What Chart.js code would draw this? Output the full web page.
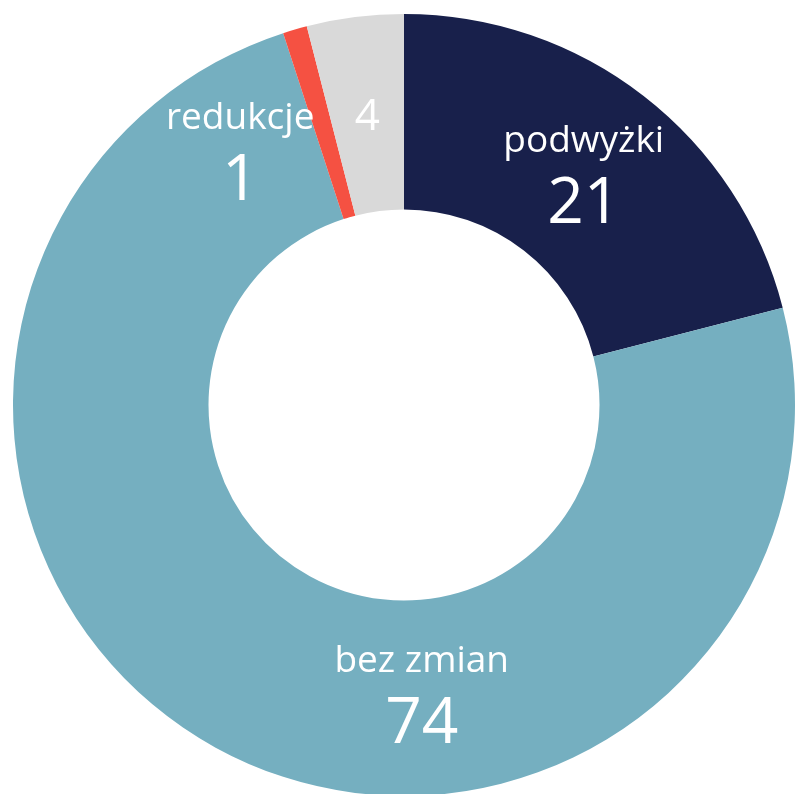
<!DOCTYPE html>
<html>
<head>
<meta charset="utf-8">
<script src="https://cdn.jsdelivr.net/npm/chart.js@4.4.0/dist/chart.umd.min.js"></script>
<style>
  html, body { margin: 0; padding: 0; background: #ffffff; overflow: hidden; width: 795px; height: 794px; }
  #wrap { position: absolute; left: 13px; top: 14px; width: 782px; height: 782px; }
</style>
</head>
<body>
<div id="wrap"><canvas id="c"></canvas></div>
<script>
const categories = ['podwyżki', 'bez zmian', 'redukcje', ''];
const values = [21, 74, 1, 4];
const colors = ['#18204B', '#75AFC0', '#F55142', '#D9D9D9'];

const labelPlugin = {
  id: 'sliceLabels',
  afterDatasetsDraw(chart, args, opts) {
    const ctx = chart.ctx;
    const meta = chart.getDatasetMeta(0);
    meta.data.forEach((arc, i) => {
      const p = arc.tooltipPosition();
      const off = opts.offsets[i] || [0, 0];
      const x = p.x + off[0];
      const y = p.y + off[1];
      ctx.save();
      ctx.fillStyle = '#ffffff';
      ctx.textAlign = 'center';
      ctx.textBaseline = 'alphabetic';
      const name = categories[i];
      const val = String(values[i]);
      if (name) {
        ctx.font = opts.nameSize + 'px "Open Sans", sans-serif';
        ctx.fillText(name, x, y - 21);
        ctx.font = opts.valueSize + 'px "Open Sans", sans-serif';
        ctx.fillText(val, x, y + 50);
      } else {
        ctx.font = opts.smallSize + 'px "Open Sans", sans-serif';
        ctx.fillText(val, x, y + opts.smallSize * 0.36);
      }
      ctx.restore();
    });
  }
};

new Chart(document.getElementById('c'), {
  type: 'doughnut',
  data: {
    labels: categories,
    datasets: [{
      data: values,
      backgroundColor: colors,
      borderWidth: 0
    }]
  },
  options: {
    responsive: true,
    maintainAspectRatio: false,
    animation: false,
    cutout: '50%',
    layout: { padding: 0 },
    plugins: {
      legend: { display: false },
      tooltip: { enabled: false },
      sliceLabels: {
        offsets: [[0, 0], [159, 31], [-82, 27], [0, 0]],
        nameSize: 37,
        valueSize: 64,
        smallSize: 44
      }
    }
  },
  plugins: [labelPlugin]
});
</script>
</body>
</html>
